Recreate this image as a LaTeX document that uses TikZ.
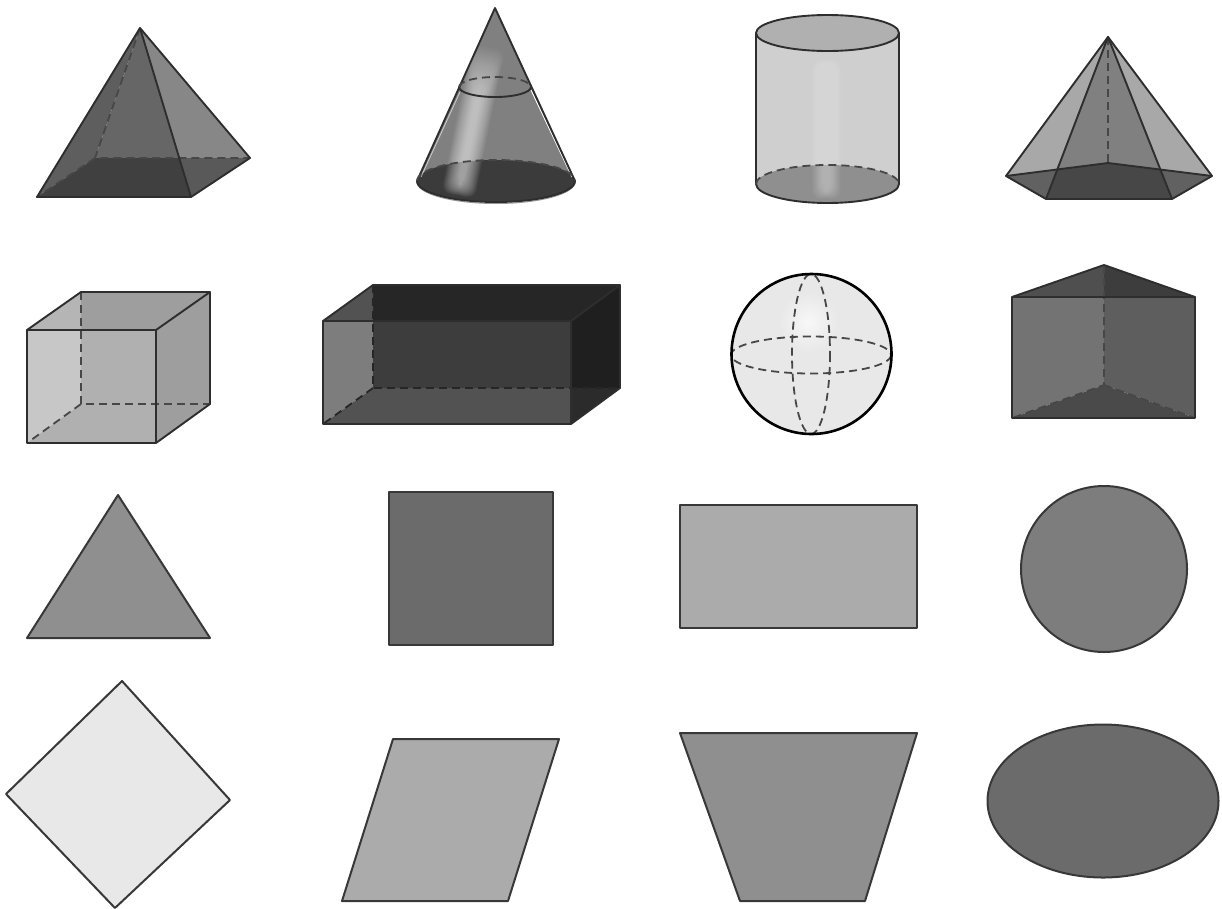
\documentclass[tikz,border=0pt]{standalone}

\begin{document}
\begin{tikzpicture}[
  x=1pt, y=-1pt,
  edge/.style={draw=black!82, line width=1.9pt, line join=round},
  hidden/.style={draw=black!72, line width=1.8pt, dash pattern=on 8pt off 5pt},
  outline/.style={draw=black!78, line width=2pt, line join=round},
  glow/.style={fill=white, rounded corners=9pt}
]
\useasboundingbox (0,0) rectangle (1222,908);

% square pyramid
\coordinate (pyrTop) at (140,28);
\coordinate (pyrA) at (37,197);
\coordinate (pyrB) at (191,197);
\coordinate (pyrC) at (250,158);
\coordinate (pyrD) at (95,158);
\coordinate (pyrE) at (179,158);
\fill[black!63] (pyrTop) -- (pyrA) -- (pyrD) -- cycle;
\fill[black!60] (pyrTop) -- (pyrD) -- (pyrE) -- cycle;
\fill[black!47] (pyrTop) -- (pyrE) -- (pyrC) -- cycle;
\fill[black!75] (pyrA) -- (pyrB) -- (pyrE) -- (pyrD) -- cycle;
\fill[black!65] (pyrB) -- (pyrC) -- (pyrE) -- cycle;
\draw[hidden] (pyrTop) -- (pyrD) -- (pyrC);
\draw[hidden] (pyrD) -- (pyrA);
\draw[edge] (pyrTop) -- (pyrA) -- (pyrB) -- (pyrC) -- cycle;
\draw[edge] (pyrTop) -- (pyrB);

% cone
\coordinate (coneTop) at (495,8);
\coordinate (coneL) at (417,181);
\coordinate (coneR) at (575,181);
\fill[black!50] (coneTop) -- (coneL) -- (coneR) -- cycle;
\fill[black!77] (496,181) ellipse [x radius=79, y radius=21];
\begin{scope}
  \clip (coneTop) -- (coneL) arc[start angle=180, end angle=0, x radius=79, y radius=21] -- cycle;
  \begin{scope}[rotate around={-11.5:(473,122)}]
    \foreach \k in {0,...,19}
      \fill[glow, fill opacity=.04] ({456+\k*.75},{46+\k*2.6}) rectangle ({490-\k*.75},{197-\k*.6});
  \end{scope}
\end{scope}
\draw[white, line width=1pt] (531,90) -- (572,177);
\draw[white, line width=.8pt, opacity=.6] (460,92) -- (421,177);
\draw[edge] (coneL) -- (coneTop) -- (coneR);
\draw[black!40, line width=1pt] (417,182) arc[start angle=180, end angle=0, x radius=79, y radius=21.5];
\draw[edge] (417,181) arc[start angle=180, end angle=0, x radius=79, y radius=21];
\draw[hidden] (417,181) arc[start angle=180, end angle=360, x radius=79, y radius=21];
\draw[edge] (459,87) arc[start angle=180, end angle=0, x radius=36, y radius=10];
\draw[hidden] (459,87) arc[start angle=180, end angle=360, x radius=36, y radius=10];

% cylinder
\fill[black!19] (756,33) rectangle (899,184);
\fill[black!44] (827.5,184) ellipse [x radius=71.5, y radius=19];
\fill[black!31] (827.5,33) ellipse [x radius=71.5, y radius=18];
\foreach \k in {0,...,19}
  \fill[glow, fill opacity=.025] ({812+\k*.6},{59+\k*.8}) rectangle ({841-\k*.6},{199-\k*.45});
\draw[edge] (756,33) -- (756,184) arc[start angle=180, end angle=0, x radius=71.5, y radius=19] -- (899,33);
\draw[edge] (827.5,33) ellipse [x radius=71.5, y radius=18];
\draw[hidden] (756,184) arc[start angle=180, end angle=360, x radius=71.5, y radius=19];

% pentagonal pyramid
\coordinate (penTop) at (1108,37);
\coordinate (penL) at (1006,176);
\coordinate (penFL) at (1046,199);
\coordinate (penFR) at (1172,199);
\coordinate (penR) at (1212,176);
\coordinate (penB) at (1108,163);
\coordinate (penI) at (1057,170);
\coordinate (penJ) at (1161,170);
\fill[black!34] (penTop) -- (penL) -- (penB) -- (penR) -- cycle;
\fill[black!62] (penL) -- (penFL) -- (penFR) -- (penR) -- (penB) -- cycle;
\fill[black!50] (penTop) -- (penI) -- (penB) -- (penJ) -- cycle;
\fill[black!72] (penI) -- (penFL) -- (penFR) -- (penJ) -- (penB) -- cycle;
\draw[hidden] (penTop) -- (penB);
\draw[edge] (penTop) -- (penL) -- (penFL) -- (penFR) -- (penR) -- cycle;
\draw[edge] (penL) -- (penB) -- (penR);
\draw[edge] (penFL) -- (penTop) -- (penFR);

% cube
\coordinate (cubeA) at (27,443);
\coordinate (cubeB) at (156,443);
\coordinate (cubeC) at (156,330);
\coordinate (cubeD) at (27,330);
\coordinate (cubeE) at (81,404);
\coordinate (cubeF) at (210,404);
\coordinate (cubeG) at (210,292);
\coordinate (cubeH) at (81,292);
\coordinate (cubeI) at (81,330);
\fill[black!22] (cubeD) -- (cubeI) -- (cubeE) -- (cubeA) -- cycle;
\fill[black!31] (cubeI) -- (cubeC) -- (cubeB) -- (cubeA) -- (cubeE) -- cycle;
\fill[black!38] (cubeC) -- (cubeG) -- (cubeF) -- (cubeB) -- cycle;
\fill[black!38] (cubeH) -- (cubeG) -- (cubeC) -- (cubeI) -- cycle;
\fill[black!29] (cubeD) -- (cubeH) -- (cubeI) -- cycle;
\draw[hidden] (cubeH) -- (cubeE) -- (cubeF);
\draw[hidden] (cubeE) -- (cubeA);
\draw[edge] (cubeA) -- (cubeB) -- (cubeC) -- (cubeD) -- cycle;
\draw[edge] (cubeD) -- (cubeH) -- (cubeG) -- (cubeC);
\draw[edge] (cubeG) -- (cubeF) -- (cubeB);

% box
\coordinate (boxA) at (323,424);
\coordinate (boxB) at (571,424);
\coordinate (boxC) at (571,321);
\coordinate (boxD) at (323,321);
\coordinate (boxE) at (373,388);
\coordinate (boxF) at (620,388);
\coordinate (boxG) at (620,285);
\coordinate (boxH) at (373,285);
\coordinate (boxI) at (373,321);
\coordinate (boxJ) at (571,388);
\fill[black!51] (boxD) -- (boxI) -- (boxE) -- (boxA) -- cycle;
\fill[black!76] (boxI) -- (boxC) -- (boxJ) -- (boxE) -- cycle;
\fill[black!68] (boxE) -- (boxJ) -- (boxB) -- (boxA) -- cycle;
\fill[black!88] (boxC) -- (boxG) -- (boxF) -- (boxJ) -- cycle;
\fill[black!83] (boxJ) -- (boxF) -- (boxB) -- cycle;
\fill[black!85] (boxH) -- (boxG) -- (boxC) -- (boxI) -- cycle;
\fill[black!68] (boxD) -- (boxH) -- (boxI) -- cycle;
\draw[hidden, draw=black!85] (boxH) -- (boxE) -- (boxF);
\draw[hidden, draw=black!85] (boxE) -- (boxA);
\draw[edge] (boxA) -- (boxB) -- (boxC) -- (boxD) -- cycle;
\draw[edge] (boxD) -- (boxH) -- (boxG) -- (boxC);
\draw[edge] (boxG) -- (boxF) -- (boxB);

% sphere
\fill[black!9] (811.5,354) circle [radius=80];
\shade[inner color=black!3, outer color=black!9] (808,322) circle [radius=30];
\draw[hidden] (811,355) ellipse [x radius=80, y radius=18.5];
\draw[hidden] (811,354) ellipse [x radius=19, y radius=80];
\draw[black, line width=2.6pt] (811.5,354) circle [radius=80];

% prism
\coordinate (priTop) at (1104,265);
\coordinate (priL) at (1012,297);
\coordinate (priR) at (1195,297);
\coordinate (priBL) at (1012,418);
\coordinate (priBR) at (1195,418);
\coordinate (priB) at (1104,385);
\coordinate (priM) at (1104,297);
\fill[black!55] (priL) -- (priM) -- (priB) -- (priBL) -- cycle;
\fill[black!63] (priM) -- (priR) -- (priBR) -- (priB) -- cycle;
\fill[black!69] (priL) -- (priTop) -- (priM) -- cycle;
\fill[black!76] (priTop) -- (priR) -- (priM) -- cycle;
\fill[black!71] (priBL) -- (priB) -- (priBR) -- cycle;
\draw[hidden] (priTop) -- (priB) -- (priBL);
\draw[hidden] (priB) -- (priBR);
\draw[edge] (priL) -- (priTop) -- (priR) -- (priBR) -- (priBL) -- cycle;
\draw[edge] (priL) -- (priR);

% flat shapes
\draw[outline, fill=black!44] (118,495) -- (27,638) -- (210,638) -- cycle;
\draw[outline, fill=black!58] (389,492) rectangle (553,645);
\draw[outline, fill=black!33] (680,505) rectangle (917,628);
\draw[outline, fill=black!51] (1104,569) circle [radius=83];
\draw[outline, fill=black!9] (122,681) -- (230,800) -- (115,908) -- (6,794) -- cycle;
\draw[outline, fill=black!33] (393,739) -- (559,739) -- (508,901) -- (342,901) -- cycle;
\draw[outline, fill=black!44] (680,733) -- (917,733) -- (865,901) -- (740,901) -- cycle;
\draw[outline, fill=black!58] (1103,801) ellipse [x radius=115.5, y radius=76.5];
\end{tikzpicture}
\end{document}
